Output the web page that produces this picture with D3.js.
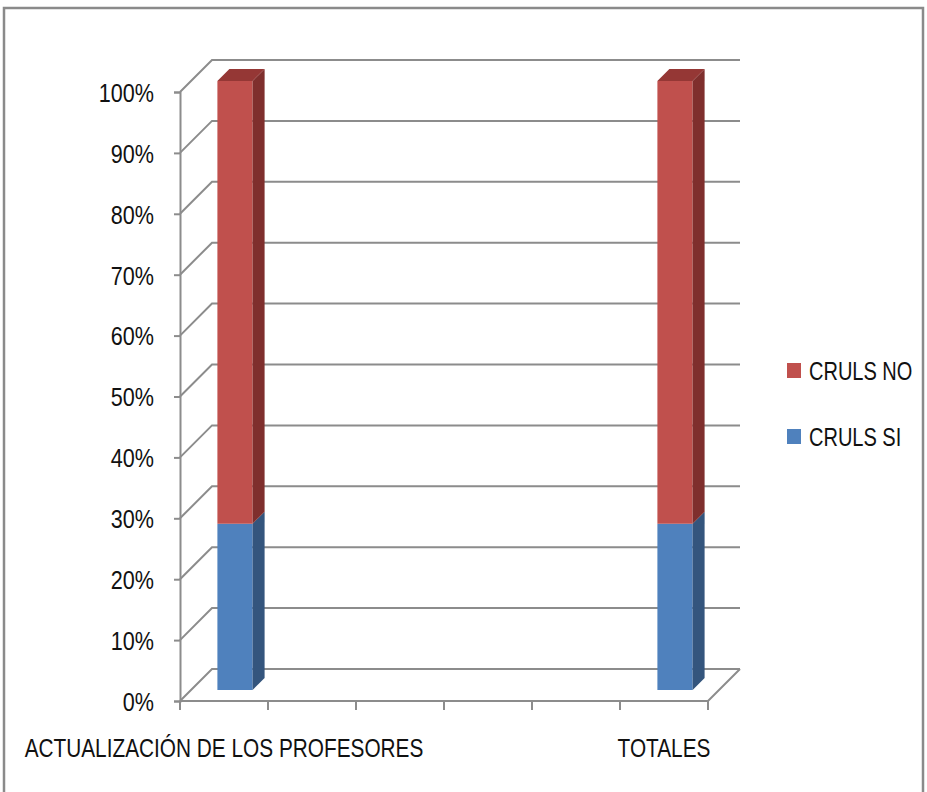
<!DOCTYPE html>
<html><head><meta charset="utf-8">
<script src="https://cdn.jsdelivr.net/npm/d3@7"></script>
<style>
html,body{margin:0;padding:0;background:#fff;}
svg text{font-family:"Liberation Sans",Arial,sans-serif;fill:#111;}
</style></head>
<body>
<svg id="chart" width="927" height="792"></svg>
<script>
const categories = ["ACTUALIZACIÓN DE LOS PROFESORES", "", "", "", "", "TOTALES"];
const seriesNames = ["CRULS SI", "CRULS NO"];
const crulsSi = [27.3, null, null, null, null, 27.3];
const crulsNo = [72.7, null, null, null, null, 72.7];
const yTicks = [0, 10, 20, 30, 40, 50, 60, 70, 80, 90, 100];
const colors = {
  "CRULS SI": {front: "#4F81BD", side: "#34557D", top: "#3E6799"},
  "CRULS NO": {front: "#C0504D", side: "#7F2F2D", top: "#953735"}
};

function condense(sel, factor) {
  sel.each(function () {
    const len = this.getComputedTextLength();
    if (len > 0) d3.select(this).attr("textLength", len * factor).attr("lengthAdjust", "spacingAndGlyphs");
  });
}

const svg = d3.select("#chart");
svg.append("path").attr("d", "M4,800 L4,8 L923,8 L923,800")
  .attr("fill", "none").attr("stroke", "#8a8a8a").attr("stroke-width", 2.5);

const x = d3.scaleBand().domain(d3.range(categories.length)).range([180, 708]).paddingInner(0).paddingOuter(0);
const y = d3.scaleLinear().domain([0, 100]).range([701, 92]);
const DX = 32, DY = -32;
const D0 = 11, BD = 12;
const bw = x.bandwidth() * 0.4;

const grid = svg.append("g").attr("stroke", "#8c8c8c").attr("stroke-width", 2).attr("fill", "none");
yTicks.forEach(t => {
  const yy = y(t);
  grid.append("path").attr("d", `M180,${yy} L${180 + DX},${yy + DY} L${x.range()[1] + DX},${yy + DY}`);
});
const yAxis = d3.axisLeft(y).tickValues(yTicks).tickSize(6).tickPadding(20).tickFormat(d => d + "%");
const gy = svg.append("g").attr("transform", "translate(180,0)").call(yAxis);
gy.select(".domain").attr("stroke", "#8c8c8c").attr("stroke-width", 2);
gy.selectAll(".tick line").attr("stroke", "#8c8c8c").attr("stroke-width", 2);
gy.selectAll(".tick text").attr("font-size", 26).attr("font-family", null).attr("fill", "#111").attr("dy", "0.36em");
condense(gy.selectAll(".tick text"), 0.83);

grid.append("path").attr("d", `M180,${y(0)} L${x.range()[1]},${y(0)} L${x.range()[1] + DX},${y(0) + DY}`);
const bounds = categories.map((c, i) => x(i)).concat([x.range()[1]]);
bounds.forEach(b => grid.append("line").attr("x1", b).attr("x2", b).attr("y1", y(0)).attr("y2", y(0) + 9));
const xl = svg.append("g").selectAll("text").data(categories).join("text")
  .attr("x", (d, i) => x(i) + x.bandwidth() / 2)
  .attr("y", 757).attr("text-anchor", "middle").attr("font-size", 26).text(d => d);
condense(xl, 0.80);

const rows = categories.map((c, i) => ({i, "CRULS SI": crulsSi[i], "CRULS NO": crulsNo[i]}))
  .filter(r => r["CRULS SI"] != null);
const stack = d3.stack().keys(seriesNames).offset(d3.stackOffsetExpand);
const layers = stack(rows);
const barsG = svg.append("g");
layers.forEach((layer, li) => {
  const col = colors[layer.key];
  layer.forEach(seg => {
    const i = seg.data.i;
    const bx = x(i) + (x.bandwidth() - bw) / 2 + D0;
    const yTop = y(seg[1] * 100) - D0, yBot = y(seg[0] * 100) - D0;
    barsG.append("rect").attr("x", bx).attr("y", yTop).attr("width", bw).attr("height", yBot - yTop).attr("fill", col.front);
    barsG.append("path").attr("d", `M${bx + bw},${yTop} L${bx + bw + BD},${yTop - BD} L${bx + bw + BD},${yBot - BD} L${bx + bw},${yBot} Z`).attr("fill", col.side);
    if (li === layers.length - 1) {
      barsG.append("path").attr("d", `M${bx},${yTop} L${bx + BD},${yTop - BD} L${bx + bw + BD},${yTop - BD} L${bx + bw},${yTop} Z`).attr("fill", col.top);
    }
  });
});

const legend = svg.append("g");
const legendItems = seriesNames.slice().reverse();
legendItems.forEach((name, k) => {
  const cy = 370 + k * 66;
  legend.append("rect").attr("x", 787).attr("y", cy - 7).attr("width", 14).attr("height", 15).attr("fill", colors[name].front);
  legend.append("text").attr("transform", `translate(809,${cy + 10}) scale(0.77,1)`)
    .attr("font-size", 26).text(name);
});
</script>
</body></html>
